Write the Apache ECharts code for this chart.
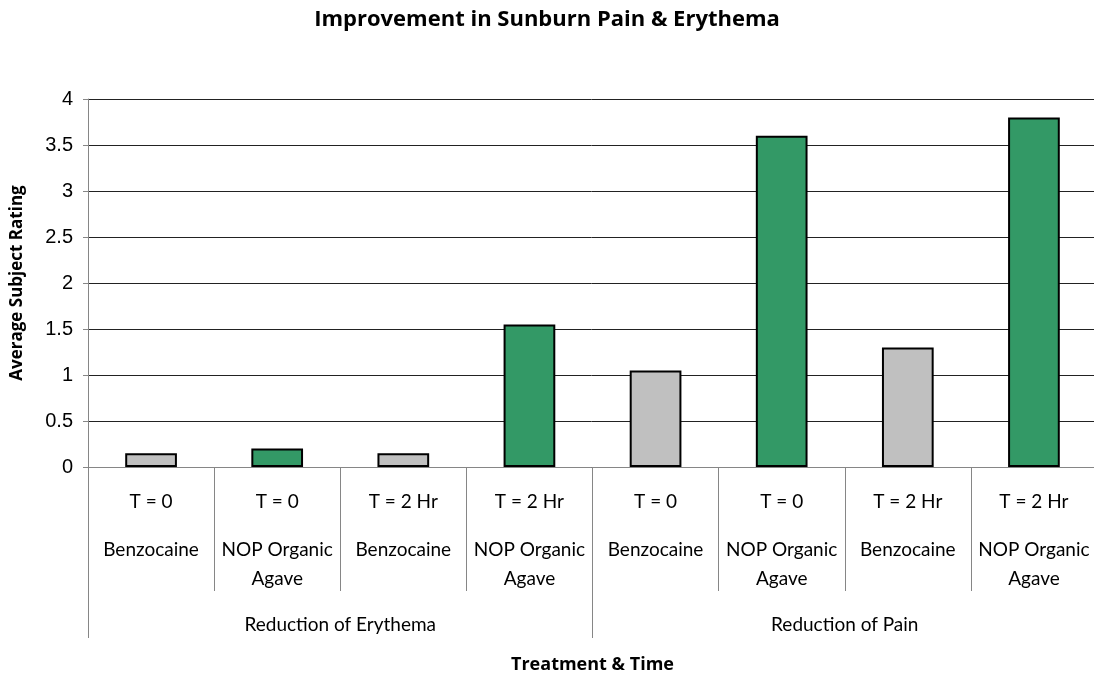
<!DOCTYPE html>
<html><head><meta charset="utf-8">
<script src="https://cdn.jsdelivr.net/npm/echarts@6/dist/echarts.min.js"></script>
<style>html,body{margin:0;padding:0;background:#fff}#c{width:1094px;height:674px}</style>
</head><body><div id="c"></div>
<script>
const times = ['T = 0','T = 0','T = 2 Hr','T = 2 Hr','T = 0','T = 0','T = 2 Hr','T = 2 Hr'];
const treatments = ['Benzocaine','NOP Organic\nAgave','Benzocaine','NOP Organic\nAgave','Benzocaine','NOP Organic\nAgave','Benzocaine','NOP Organic\nAgave'];
const groups = ['Reduction of Erythema','Reduction of Pain'];
const ratings = [0.15, 0.2, 0.15, 1.55, 1.05, 3.6, 1.3, 3.8];
const yTicks = [0, 0.5, 1, 1.5, 2, 2.5, 3, 3.5, 4];

const colorFor = t => t.startsWith('Benzocaine') ? '#C0C0C0' : '#339966';
const cats = times.map((t,i) => t + '|' + treatments[i]);

const chart = echarts.init(document.getElementById('c'));
chart.setOption({
  animation: false,
  title: { text: 'Improvement in Sunburn Pain & Erythema', left: 'center', top: 4,
    textStyle: { fontFamily: 'Open Sans', fontWeight: 'bold', fontSize: 22, color: '#000' } },
  grid: { left: 88, right: -3, top: 99, bottom: 207, outerBoundsMode: 'none', containLabel: false },
  xAxis: [{
    type: 'category', data: cats, position: 'bottom',
    axisLine: { show: true, lineStyle: { color: '#868686', width: 1 } },
    axisTick: { show: true, interval: 0, length: 124, lineStyle: { color: '#868686' } },
    axisLabel: { interval: 0, margin: 2,
      formatter: v => { const p = v.split('|'); return '{t|' + p[0] + '}\n' + p[1].split('\n').map(s => '{n|' + s + '}').join('\n'); },
      rich: {
        t: { fontFamily: 'Lato', fontSize: 19, color: '#000', lineHeight: 66 },
        n: { fontFamily: 'Lato', fontSize: 19, color: '#000', lineHeight: 29 }
      } }
  }, {
    type: 'category', data: groups, position: 'bottom',
    name: 'Treatment & Time', nameLocation: 'middle', nameGap: 189,
    nameTextStyle: { fontFamily: 'Open Sans', fontWeight: 'bold', fontSize: 18, color: '#000' },
    axisLine: { show: false },
    axisTick: { show: true, interval: 0, length: 171, lineStyle: { color: '#868686' } },
    axisLabel: { interval: 0, margin: 148, fontFamily: 'Lato', fontSize: 19, color: '#000' }
  }],
  yAxis: {
    type: 'value', min: 0, max: 4, interval: 0.5,
    name: 'Average Subject Rating', nameLocation: 'middle', nameGap: 62,
    nameTextStyle: { fontFamily: 'Open Sans', fontWeight: 'bold', fontSize: 17, color: '#000' },
    axisLine: { show: true, lineStyle: { color: '#868686' } },
    axisTick: { show: true, length: 5, lineStyle: { color: '#868686' } },
    axisLabel: { fontFamily: 'Liberation Sans', fontSize: 20, color: '#000', margin: 15,
      formatter: v => yTicks.includes(v) ? String(v) : '' },
    splitLine: { lineStyle: { color: '#222', width: 1 } }
  },
  series: [{
    type: 'bar', xAxisIndex: 0, barWidth: '41%',
    data: ratings.map((v,i) => ({ value: v, itemStyle: { color: colorFor(treatments[i]) } })),
    itemStyle: { borderColor: '#000', borderWidth: 2 }
  }]
});
</script></body></html>
